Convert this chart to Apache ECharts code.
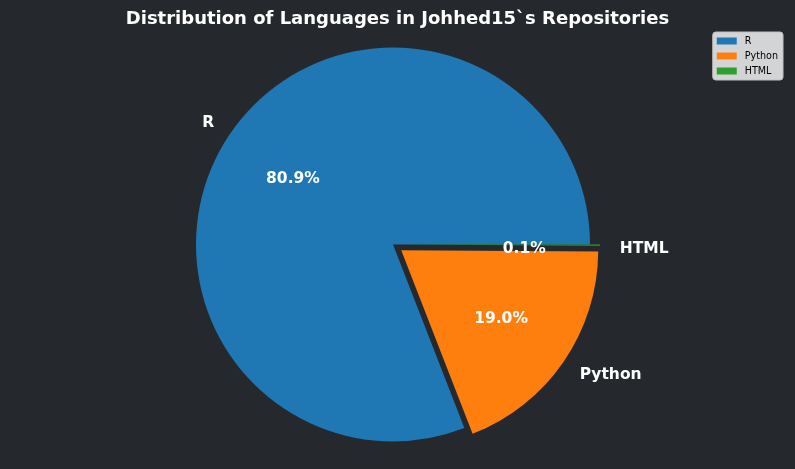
<!DOCTYPE html>
<html>
<head>
<meta charset="utf-8">
<script src="https://cdn.jsdelivr.net/npm/echarts@6/dist/echarts.min.js"></script>
<style>
html,body{margin:0;padding:0;background:#25292d;}
#chart{width:795px;height:469px;}
</style>
</head>
<body>
<div id="chart"></div>
<script>
const titleText = 'Distribution of Languages in Johhed15`s Repositories';
const categories = ['R', 'Python', 'HTML'];
const shares = [80.9, 19.0, 0.1];
const colors = ['#1f77b4', '#ff7f0e', '#2ca02c'];
const exploded = [false, true, true];
const nameDrop = [1, 2, 4];
const pctDrop = [3, 0, 4];

const R = 197;
const font = 'DejaVu Sans';

const mainData = categories.map((c, i) => ({
  name: c, value: shares[i], selected: exploded[i],
  itemStyle: { color: colors[i] }
}));
const pctData = categories.map((c, i) => ({
  name: c, value: shares[i], selected: exploded[i]
}));

const chart = echarts.init(document.getElementById('chart'));
chart.setOption({
  backgroundColor: '#25292d',
  animation: false,
  title: {
    text: titleText, left: 'center', top: 5,
    textStyle: { color: '#ffffff', fontFamily: font, fontWeight: 'bold', fontSize: 18 }
  },
  legend: {
    orient: 'vertical', right: 12, top: 32,
    data: categories,
    icon: 'rect', itemWidth: 20, itemHeight: 7, itemGap: 5,
    padding: [4, 5, 4, 4],
    backgroundColor: '#d3d4d5', borderColor: '#bfc0c1', borderWidth: 1, borderRadius: 3,
    textStyle: { color: '#000', fontFamily: font, fontSize: 9.6, lineHeight: 10, padding: [0, 0, 0, 3] },
    selectedMode: false
  },
  series: [
    {
      type: 'pie', name: 'main',
      center: [393, 244.5], radius: [0, R],
      startAngle: 0, clockwise: false,
      selectedMode: 'multiple', selectedOffset: 10,
      avoidLabelOverlap: false,
      data: mainData,
      label: {
        show: true, position: 'outside', formatter: '{b}',
        color: '#ffffff', fontFamily: font, fontWeight: 'bold', fontSize: 15.5,
        distanceToLabelLine: 0
      },
      labelLayout: p => ({ dy: nameDrop[p.dataIndex] }),
      labelLine: { show: false, length: R * 0.1, length2: 0 },
      emphasis: { disabled: true },
      silent: true
    },
    {
      type: 'pie', name: 'pct',
      center: [393, 244.5], radius: [R * 0.2, R],
      startAngle: 0, clockwise: false,
      selectedMode: 'multiple', selectedOffset: 10,
      avoidLabelOverlap: false,
      data: pctData,
      itemStyle: { color: 'rgba(0,0,0,0)' },
      label: {
        show: true, position: 'inside',
        formatter: p => p.value.toFixed(1) + '%',
        color: '#ffffff', fontFamily: font, fontWeight: 'bold', fontSize: 15.5
      },
      labelLayout: p => ({ dy: pctDrop[p.dataIndex] }),
      labelLine: { show: false },
      emphasis: { disabled: true },
      silent: true
    }
  ]
});
</script>
</body>
</html>
